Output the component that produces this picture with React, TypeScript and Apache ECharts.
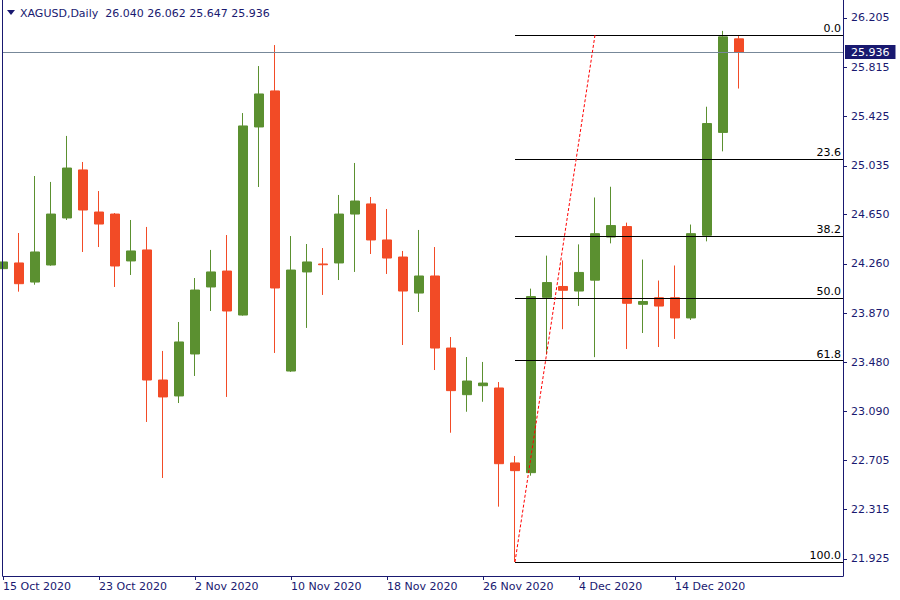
import { useEffect, useRef } from 'react';
import * as echarts from 'echarts';

const symbolName = 'XAGUSD';
const periodName = 'Daily';

const dates = [
  '15 Oct 2020', '16 Oct 2020', '19 Oct 2020', '20 Oct 2020', '21 Oct 2020', '22 Oct 2020', '23 Oct 2020',
  '26 Oct 2020', '27 Oct 2020', '28 Oct 2020', '29 Oct 2020', '30 Oct 2020',
  '2 Nov 2020', '3 Nov 2020', '4 Nov 2020', '5 Nov 2020', '6 Nov 2020',
  '9 Nov 2020', '10 Nov 2020', '11 Nov 2020', '12 Nov 2020', '13 Nov 2020',
  '16 Nov 2020', '17 Nov 2020', '18 Nov 2020', '19 Nov 2020', '20 Nov 2020',
  '23 Nov 2020', '24 Nov 2020', '25 Nov 2020', '26 Nov 2020', '27 Nov 2020',
  '30 Nov 2020', '1 Dec 2020', '2 Dec 2020', '3 Dec 2020', '4 Dec 2020',
  '7 Dec 2020', '8 Dec 2020', '9 Dec 2020', '10 Dec 2020', '11 Dec 2020',
  '14 Dec 2020', '15 Dec 2020', '16 Dec 2020', '17 Dec 2020', '18 Dec 2020',
];

const opens = [
  24.222, 24.267, 24.116, 24.251, 24.623, 25.003, 24.670, 24.654, 24.283, 24.370,
  23.341, 23.215, 23.547, 24.077, 24.203, 23.855, 25.343, 25.628, 23.412, 24.196,
  24.259, 24.267, 24.654, 24.734, 24.449, 24.314, 24.029, 24.164, 23.594, 23.225,
  23.296, 23.278, 22.685, 22.608, 23.995, 24.081, 24.045, 24.131, 24.472, 24.555,
  23.940, 23.992, 23.992, 23.832, 24.486, 25.300, 26.040,
];
const closes = [
  24.275, 24.103, 24.354, 24.654, 25.018, 24.686, 24.575, 24.243, 24.362, 23.341,
  23.207, 23.642, 24.053, 24.196, 23.887, 25.351, 25.604, 24.069, 24.211, 24.275,
  24.253, 24.654, 24.757, 24.449, 24.306, 24.045, 24.164, 23.594, 23.257, 23.333,
  23.317, 22.679, 22.624, 24.001, 24.112, 24.051, 24.192, 24.499, 24.563, 23.948,
  23.962, 23.926, 23.832, 24.499, 25.370, 26.056, 25.936,
];
const lows = [
  23.557, 24.040, 24.095, 24.245, 24.607, 24.354, 24.393, 24.077, 24.172, 23.009,
  22.566, 23.159, 23.373, 23.887, 23.207, 23.850, 24.868, 23.555, 23.405, 23.753,
  24.014, 24.132, 24.196, 24.338, 24.180, 23.618, 23.879, 23.420, 22.924, 23.090,
  23.169, 22.339, 21.901, 22.584, 23.544, 23.743, 23.927, 23.522, 24.422, 23.586,
  23.713, 23.602, 23.666, 23.816, 24.438, 25.150, 25.647,
];
const highs = [
  24.298, 24.504, 24.955, 24.908, 25.272, 25.066, 24.836, 24.662, 24.607, 24.552,
  23.571, 23.800, 24.148, 24.370, 24.488, 25.453, 25.825, 25.991, 24.480, 24.417,
  24.385, 24.805, 25.058, 24.789, 24.694, 24.362, 24.528, 24.393, 23.681, 23.523,
  23.484, 23.325, 22.740, 24.064, 24.325, 24.287, 24.414, 24.785, 24.870, 24.586,
  24.294, 24.128, 24.247, 24.571, 25.503, 26.103, 26.062,
];

const yTicks = [26.205, 25.815, 25.425, 25.035, 24.65, 24.26, 23.87, 23.48, 23.09, 22.705, 22.315, 21.925];
const xTickIndices = [0, 6, 12, 18, 24, 30, 36, 42];

const lastPrice = 25.936;
const fibHigh = 26.0705;
const fibLow = 21.9013;
const fibLowIndex = 32;
const fibHighIndex = 37;
const fibRatios = [0, 23.6, 38.2, 50, 61.8, 100];

const NAVY = '#191970';
const UP = '#5B9030';
const DOWN = '#F24B26';
const GREY = '#778899';
const FONT = 'DejaVu Sans';

export default function App() {
  const ref = useRef<HTMLDivElement>(null);

  useEffect(() => {
    const chart = echarts.init(ref.current!, null, { renderer: 'svg' });
    const candles = dates.map((_, i) => [i, opens[i], closes[i], lows[i], highs[i]]);
    const lastIdx = dates.length - 1;
    const xMax = 52.5;

    const fibLines = fibRatios.map((r) => {
      const v = fibHigh - ((fibHigh - fibLow) * r) / 100;
      return [
        {
          name: r.toFixed(1),
          coord: [fibLowIndex, v],
          lineStyle: { color: '#000000', width: 1, type: 'solid' },
          label: {
            show: true,
            position: 'insideEndTop',
            formatter: r.toFixed(1),
            color: '#000000',
            fontFamily: FONT,
            fontSize: 11,
            distance: [2, 1],
          },
        },
        { coord: [xMax, v] },
      ];
    });

    const header = `${symbolName},${periodName}  ${opens[lastIdx].toFixed(3)} ${highs[lastIdx].toFixed(3)} ${lows[lastIdx].toFixed(3)} ${closes[lastIdx].toFixed(3)}`;

    chart.setOption({
      animation: false,
      backgroundColor: '#ffffff',
      textStyle: { fontFamily: FONT, fontSize: 11 },
      grid: { left: 3, right: 57, top: 0, bottom: 24, containLabel: false },
      xAxis: {
        type: 'value',
        min: 0,
        max: xMax,
        axisLine: { show: true, onZero: false, lineStyle: { color: NAVY, width: 1 } },
        axisTick: { show: true, customValues: xTickIndices, length: 4, lineStyle: { color: NAVY } },
        axisLabel: {
          customValues: xTickIndices,
          formatter: (v: number) => dates[Math.round(v)] ?? '',
          align: 'left',
          color: NAVY,
          fontFamily: FONT,
          fontSize: 11,
          margin: 5,
        },
        splitLine: { show: false },
      },
      yAxis: {
        type: 'value',
        position: 'right',
        min: 21.7905,
        max: 26.3474,
        axisLine: { show: true, onZero: false, lineStyle: { color: NAVY, width: 1 } },
        axisTick: { show: true, customValues: yTicks, length: 4, lineStyle: { color: NAVY } },
        axisLabel: {
          customValues: yTicks,
          formatter: (v: number) => v.toFixed(3),
          color: NAVY,
          fontFamily: FONT,
          fontSize: 11,
          margin: 8,
        },
        splitLine: { show: false },
      },
      series: [
        {
          type: 'candlestick',
          data: candles,
          barWidth: 10,
          itemStyle: {
            color: UP,
            color0: DOWN,
            borderColor: UP,
            borderColor0: DOWN,
            borderWidth: 1,
          },
          emphasis: { disabled: true },
          markLine: {
            silent: true,
            symbol: ['none', 'none'],
            animation: false,
            lineStyle: { color: GREY, width: 1, type: 'solid' },
            label: { fontFamily: FONT, fontSize: 11 },
            data: [
              [
                {
                  name: 'price',
                  coord: [0, lastPrice],
                  lineStyle: { color: GREY, width: 1, type: 'solid' },
                  label: {
                    show: true,
                    position: 'end',
                    formatter: lastPrice.toFixed(3),
                    color: '#ffffff',
                    backgroundColor: NAVY,
                    padding: [2, 6, 1, 6],
                    distance: 2,
                    fontFamily: FONT,
                    fontSize: 11,
                  },
                },
                { coord: [xMax, lastPrice] },
              ],
              ...fibLines,
              [
                {
                  coord: [fibLowIndex, fibLow],
                  lineStyle: { color: '#FF0000', width: 1, type: [3, 2] },
                  label: { show: false },
                },
                { coord: [fibHighIndex, fibHigh] },
              ],
            ],
          },
        },
      ],
      graphic: [
        { type: 'line', shape: { x1: 2.5, y1: 0, x2: 2.5, y2: 576.5 }, style: { stroke: NAVY, lineWidth: 1 }, z: 101, silent: true },
        { type: 'polygon', shape: { points: [[7, 10], [15, 10], [11, 15]] }, style: { fill: NAVY }, z: 101, silent: true },
        {
          type: 'text',
          x: 20,
          y: 13,
          style: { text: header, fill: NAVY, font: `11px "${FONT}"`, verticalAlign: 'middle', align: 'left' },
          z: 101,
          silent: true,
        },
      ],
    });

    return () => chart.dispose();
  }, []);

  return (
    <div
      ref={ref}
      style={{ position: 'fixed', left: 0, top: 0, width: 900, height: 600, background: '#fff' }}
    />
  );
}
